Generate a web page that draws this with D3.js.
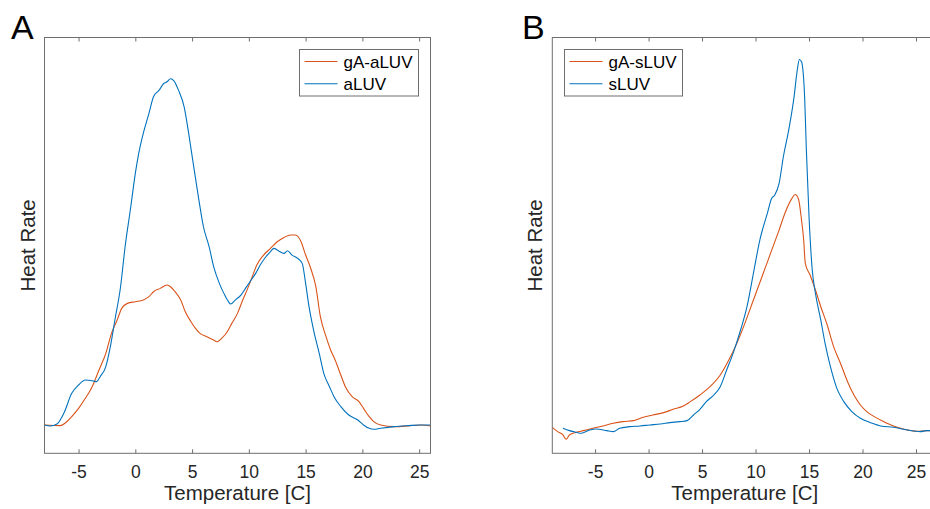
<!DOCTYPE html>
<html><head><meta charset="utf-8">
<script src="https://cdn.jsdelivr.net/npm/d3@7"></script>
<style>body{margin:0;background:#fff;} svg{display:block;}</style>
</head><body>
<svg id="chart" width="930" height="509"></svg>
<script>
// Panel A: temperature (C) and heat rate (arbitrary units)
const aLUV_T = [-8,-7.5,-6.9,-6.3,-5.6,-5.0,-4.4,-3.8,-3.4,-3.1,-2.6,-2.2,-1.8,-1.3,-0.9,-0.4,0,0.3,0.7,1.2,1.6,2.1,2.5,2.8,3.1,3.4,3.8,4.3,4.7,5.1,5.6,6.0,6.5,6.9,7.4,7.8,8.2,8.4,8.8,9.3,9.7,10.1,10.6,11.0,11.5,11.9,12.2,12.6,13.1,13.4,13.8,14.3,14.7,15.0,15.3,15.7,16.2,16.6,17.1,17.5,18.1,18.8,19.6,20.1,20.6,21.0,21.6,22.8,24.0,25.1,26];
const aLUV_V = [0,-0.3,0.3,3.5,9.5,12,13.5,13.3,13,14.5,17.5,23.5,31.5,41.5,53.5,65.5,75.5,81.5,87.5,93.5,98.5,100.5,102.5,103,103.9,103.3,100.5,95.5,87.5,78.5,67.5,59.5,53.5,47.5,42.5,39.5,37,36.3,37.5,39,41,43,45.5,48,50.5,52,53,52.3,51.5,52.3,51,50,48.5,42.5,35.5,28.5,21.5,15.5,11.5,8.5,5.5,3,1.5,0,-1,-1.3,-1,-0.5,-0.2,0,0];
const gA_aLUV_T = [-8,-6.6,-6.2,-5.6,-5.0,-4.4,-3.8,-3.2,-2.6,-2.1,-1.6,-1.2,-0.7,0,0.7,1.2,1.6,2.2,2.8,3.1,3.5,4.0,4.4,4.9,5.3,5.7,6.3,6.9,7.2,7.6,8.1,8.5,9.0,9.4,9.9,10.3,10.7,11.3,11.9,12.5,13.1,13.7,14.1,14.6,15.0,15.4,15.9,16.3,16.8,17.2,17.6,18.1,18.5,19.1,19.7,20.1,20.6,21.0,21.6,22.8,24.0,25.1,26];
const gA_aLUV_V = [0,-0.2,0.5,2.5,5,8,11.5,16.5,21.5,27.5,31.5,35,36.5,37,37.5,38.5,40,41,42,41.5,40,37.5,34,31,29,27.5,26.5,25.5,25,26,28,30.5,33.5,37,41,44.5,48,51,53,55,56.3,57,57,55,51,47.5,41.5,32.5,26.5,22.5,19.5,15,11.5,8.5,7,5,2.5,1,0,-0.5,-0.3,0,-0.3];

// Panel B
const sLUV_T = [-8,-7.4,-6.75,-6.3,-5.5,-4.9,-3.9,-3.3,-2.7,-1.75,-0.8,0.1,1.1,2.0,2.9,3.6,4.2,4.8,5.4,6.1,6.7,7.3,7.9,8.6,9.2,9.8,10.4,11.1,11.5,11.8,12.2,12.6,13.1,13.6,13.9,14.1,14.3,14.6,14.75,15.0,15.3,15.6,16.1,16.5,17.0,17.6,18.25,19.0,19.8,20.75,21.7,22.9,24.2,25.4,26,27];
const sLUV_V = [0.5,-0.2,-0.7,-1,0,0.3,-0.2,-0.5,0.5,1,1.2,1.5,1.8,2.2,2.5,2.8,4.5,6.2,8.5,10.5,13,18,23,30,37,47,57,65,69.5,70.5,74,82,90,100,108,111.2,110.5,99,84,64,48,41,33,26,19,12.5,8.5,5.5,3.5,2.2,1.2,0.8,0,-0.5,-0.2,-0.2];
const gA_sLUV_T = [-9,-8.5,-8,-7.7,-7.4,-6.75,-6.1,-5.2,-4.25,-3.3,-2.4,-1.4,-0.5,0.4,1.4,2.3,3.25,3.9,4.8,5.75,6.7,7.5,8.25,9.0,9.8,10.6,11.4,12.2,12.8,13.4,13.7,14.0,14.3,14.5,14.65,15.1,15.6,16.1,16.7,17.3,18.0,18.6,19.2,19.8,20.4,21.1,22.0,22.9,23.9,25.1,26,27];
const gA_sLUV_V = [0.8,-0.5,-1.5,-2.8,-1.5,-0.7,-0.2,0.5,1.2,2,2.5,2.8,3.8,4.5,5.2,6.2,7.2,8.5,10.5,13,16.5,21,26,32,39,46,53,60,65.5,69.5,70.7,69.5,63,57,50,46.5,42,37,31.5,25,19.5,14.5,10.5,7.5,5.5,4,2.5,1.2,0.2,-0.4,-0.2,-0.2];

const xTicks = [-5,0,5,10,15,20,25];
const legendA = ["gA-aLUV","aLUV"];
const legendB = ["gA-sLUV","sLUV"];
const ORANGE = "#D95319", BLUE = "#0072BD";

const svg = d3.select("#chart");
const FONT = "'Liberation Sans', Arial, Helvetica, sans-serif";

function panel(cfg){
  const g = svg.append("g");
  const x = d3.scaleLinear().domain(cfg.xdom).range([cfg.left, cfg.right]);
  const y = d3.scaleLinear().domain(cfg.ydom).range([cfg.bottom, cfg.top]);
  const clipId = "clip" + cfg.letter;
  svg.append("clipPath").attr("id", clipId).append("rect")
    .attr("x", cfg.left).attr("y", cfg.top)
    .attr("width", cfg.right - cfg.left).attr("height", cfg.bottom - cfg.top);

  const line = d3.line().x(d => x(d[0])).y(d => y(d[1])).curve(d3.curveMonotoneX);
  cfg.series.forEach(s => {
    g.append("path").datum(d3.zip(s.T, s.V))
      .attr("clip-path", `url(#${clipId})`)
      .attr("d", line).attr("fill", "none")
      .attr("stroke", s.color).attr("stroke-width", 1.1);
  });

  // frame
  g.append("rect").attr("x", cfg.left).attr("y", cfg.top)
    .attr("width", cfg.right - cfg.left).attr("height", cfg.bottom - cfg.top)
    .attr("fill", "none").attr("stroke", "#6e6e6e").attr("stroke-width", 1);

  // bottom axis (ticks inward)
  const bAxis = d3.axisBottom(x).tickValues(xTicks).tickSize(-4).tickPadding(12).tickFormat(d3.format("d"));
  const ga = g.append("g").attr("transform", `translate(0,${cfg.bottom})`).call(bAxis);
  ga.select(".domain").remove();
  ga.selectAll(".tick line").attr("stroke", "#6e6e6e");
  ga.selectAll(".tick text").attr("font-family", FONT).attr("font-size", 17.5).attr("fill", "#262626")
    .text(d => d < 0 ? "-" + Math.abs(d) : d);
  // top axis (ticks inward)
  const tAxis = d3.axisTop(x).tickValues(xTicks).tickSize(-4).tickFormat("");
  const gt = g.append("g").attr("transform", `translate(0,${cfg.top})`).call(tAxis);
  gt.select(".domain").remove();
  gt.selectAll(".tick line").attr("stroke", "#6e6e6e");

  // axis labels
  g.append("text").attr("x", (cfg.left + cfg.labelRight) / 2).attr("y", 500)
    .attr("text-anchor", "middle").attr("font-family", FONT).attr("font-size", 20.5)
    .attr("fill", "#262626").text("Temperature [C]");
  g.append("text").attr("transform", `translate(${cfg.ylabX},${(cfg.top + cfg.bottom) / 2}) rotate(-90)`)
    .attr("text-anchor", "middle").attr("font-family", FONT).attr("font-size", 20.5)
    .attr("fill", "#262626").text("Heat Rate");

  // panel letter
  g.append("text").attr("x", cfg.letterX).attr("y", 39).attr("font-family", FONT)
    .attr("font-size", 34).attr("fill", "#000").text(cfg.letter);

  // legend
  const L = cfg.legend;
  const lg = g.append("g");
  lg.append("rect").attr("x", L.x).attr("y", L.y).attr("width", L.w).attr("height", L.h)
    .attr("fill", "#fff").attr("stroke", "#6e6e6e").attr("stroke-width", 1);
  cfg.series.forEach((s, i) => {
    const yy = L.y + 12 + i * 22.3;
    lg.append("line").attr("x1", L.x + 5).attr("x2", L.x + 38).attr("y1", yy).attr("y2", yy)
      .attr("stroke", s.color).attr("stroke-width", 1.1);
    lg.append("text").attr("x", L.x + 44).attr("y", yy + 6).attr("font-family", FONT)
      .attr("font-size", 17).attr("fill", "#000").text(L.labels[i]);
  });
}

panel({
  letter: "A", letterX: 11,
  xdom: [-8, 26], ydom: [-8.5, 116.3],
  left: 44.5, right: 430.5, top: 37.5, bottom: 453.3, labelRight: 430.5, ylabX: 35,
  series: [{T: gA_aLUV_T, V: gA_aLUV_V, color: ORANGE}, {T: aLUV_T, V: aLUV_V, color: BLUE}],
  legend: {x: 299.5, y: 49.5, w: 119, h: 46.5, labels: legendA}
});
panel({
  letter: "B", letterX: 522,
  xdom: [-9, 27], ydom: [-7, 117.8],
  left: 552.3, right: 937.4, top: 37.5, bottom: 453.3, labelRight: 937.4, ylabX: 542,
  series: [{T: gA_sLUV_T, V: gA_sLUV_V, color: ORANGE}, {T: sLUV_T, V: sLUV_V, color: BLUE}],
  legend: {x: 564.5, y: 49.5, w: 118, h: 46.5, labels: legendB}
});
</script>
</body></html>
